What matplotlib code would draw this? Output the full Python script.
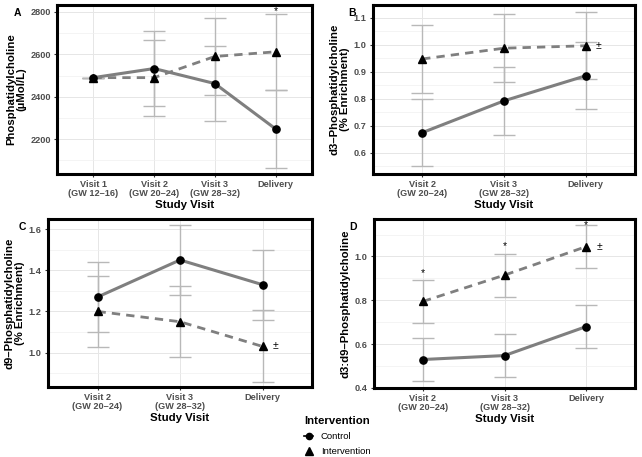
import matplotlib
matplotlib.use("Agg")
import matplotlib.pyplot as plt
from matplotlib.lines import Line2D
from matplotlib.ticker import MultipleLocator

plt.rcParams['font.family'] = ['Liberation Sans', 'DejaVu Sans']

W, H = 642, 457

# ---- data ----
visits_a = ['Visit 1\n(GW 12\u201316)', 'Visit 2\n(GW 20\u201324)', 'Visit 3\n(GW 28\u201332)', 'Delivery']
visits_bcd = ['Visit 2\n(GW 20\u201324)', 'Visit 3\n(GW 28\u201332)', 'Delivery']

pc_control = [2490, 2533, 2462, 2248]
pc_control_err = [0, 179, 178, 183]
pc_interv = [2490, 2490, 2590, 2612]
pc_interv_err = [0, 180, 180, 180]

d3_control = [0.675, 0.793, 0.886]
d3_control_err = [0.125, 0.125, 0.125]
d3_interv = [0.948, 0.988, 0.997]
d3_interv_err = [0.127, 0.127, 0.124]

d9_control = [1.27, 1.45, 1.33]
d9_control_err = [0.17, 0.17, 0.17]
d9_interv = [1.20, 1.15, 1.03]
d9_interv_err = [0.172, 0.172, 0.175]

ratio_control = [0.530, 0.548, 0.680]
ratio_control_err = [0.099, 0.099, 0.099]
ratio_interv = [0.795, 0.915, 1.045]
ratio_interv_err = [0.099, 0.098, 0.098]

# significance marks: (index, y) for '*' and '±'
stars_a = [(3, 2803)]
pm_a = []
stars_b = []
pm_b = [(2, 0.997)]
stars_c = []
pm_c = [(2, 1.03)]
stars_d = [(0, 0.925), (1, 1.048), (2, 1.143)]
pm_d = [(2, 1.045)]

GRAY_TXT = '#4d4d4d'
ERR = '#b8b8b8'
LINE = '#7f7f7f'
TITLE_SIZE = 8.2
TICK_SIZE = 6.6


def add_ax(left, top, right, bottom):
    return fig.add_axes([left / W, 1 - bottom / H, (right - left) / W, (bottom - top) / H])


def draw_panel(ax, labels, ctrl, ctrl_err, intv, intv_err, ylim, ystep, ylabel, letter,
               stars, pms, letter_x):
    x = list(range(1, len(labels) + 1))
    ax.errorbar(x, ctrl, yerr=ctrl_err, fmt='none', ecolor=ERR, elinewidth=1,
                capsize=8, capthick=1, zorder=2)
    ax.errorbar(x, intv, yerr=intv_err, fmt='none', ecolor=ERR, elinewidth=1,
                capsize=8, capthick=1, zorder=2)
    ax.plot(x, ctrl, color=LINE, lw=2.2, zorder=3)
    ax.plot(x, intv, color=LINE, lw=2.0, ls=(0, (3, 2.2)), zorder=3)
    ax.plot(x, ctrl, 'o', color='black', ms=5.2, zorder=4)
    ax.plot(x, intv, '^', color='black', ms=6.3, zorder=4)

    for i, y in stars:
        ax.text(x[i], y, '*', ha='center', va='center', fontsize=7.5, color='black')
    for i, y in pms:
        ax.text(x[i] + 0.16, y, '\u00b1', ha='center', va='center', fontsize=7.5, color='black')

    ax.set_xlim(0.4, len(labels) + 0.6)
    ax.set_ylim(*ylim)
    ax.set_xticks(x)
    ax.set_xticklabels(labels, fontsize=TICK_SIZE, color=GRAY_TXT, fontweight='bold', linespacing=1.0)
    ax.yaxis.set_major_locator(MultipleLocator(ystep))
    ax.yaxis.set_minor_locator(MultipleLocator(ystep / 2))
    ax.tick_params(axis='y', labelsize=TICK_SIZE, labelcolor=GRAY_TXT, length=2.5, color='#333333', pad=2)
    ax.tick_params(axis='x', length=2.5, color='#333333', pad=2)
    ax.tick_params(which='minor', length=0)
    for lab in ax.get_yticklabels():
        lab.set_fontweight('bold')
    ax.grid(True, which='major', color='#e6e6e6', lw=0.7)
    ax.grid(True, which='minor', axis='y', color='#f0f0f0', lw=0.5)
    ax.set_axisbelow(True)
    for s in ax.spines.values():
        s.set_linewidth(2.2)
        s.set_color('black')
    ax.set_ylabel(ylabel, fontsize=TITLE_SIZE, fontweight='bold', linespacing=1.0, labelpad=3)
    ax.set_xlabel('Study Visit', fontsize=TITLE_SIZE, fontweight='bold', labelpad=1)
    pos = ax.get_position()
    fig.text(letter_x / W, pos.y1 - 8 / H, letter, fontsize=7.5, fontweight='bold',
             ha='center', va='center')


fig = plt.figure(figsize=(W / 100, H / 100), dpi=100)

ax_a = add_ax(57, 5, 312, 174)
draw_panel(ax_a, visits_a, pc_control, pc_control_err, pc_interv, pc_interv_err,
           (2035, 2833), 200, 'Phosphatidylcholine\n(\u00b5Mol/L)', 'A', stars_a, pm_a, 17)

ax_b = add_ax(373, 5, 635, 174)
draw_panel(ax_b, visits_bcd, d3_control, d3_control_err, d3_interv, d3_interv_err,
           (0.522, 1.148), 0.1, 'd3\u2013Phosphatidylcholine\n(% Enrichment)', 'B', stars_b, pm_b, 352)

ax_c = add_ax(48, 219, 312, 387)
draw_panel(ax_c, visits_bcd, d9_control, d9_control_err, d9_interv, d9_interv_err,
           (0.833, 1.649), 0.2, 'd9\u2013Phosphatidylcholine\n(% Enrichment)', 'C', stars_c, pm_c, 22)

ax_d = add_ax(374, 219, 635, 388)
draw_panel(ax_d, visits_bcd, ratio_control, ratio_control_err, ratio_interv, ratio_interv_err,
           (0.4, 1.171), 0.2, 'd3:d9\u2013Phosphatidylcholine', 'D', stars_d, pm_d, 353)

handles = [Line2D([], [], color='black', marker='o', ms=4.5, lw=1.2),
           Line2D([], [], color='black', marker='^', ms=5.5, lw=0)]
leg = fig.legend(handles, ['Control', 'Intervention'], title='Intervention',
                 loc='upper left', bbox_to_anchor=(300 / W, 1 - 412 / H), frameon=False,
                 fontsize=6.8, handlelength=1.0, handletextpad=0.8, labelspacing=0.65,
                 borderaxespad=0, alignment='left',
                 title_fontproperties={'weight': 'bold', 'size': TITLE_SIZE})

fig.savefig('out.png', dpi=100)
